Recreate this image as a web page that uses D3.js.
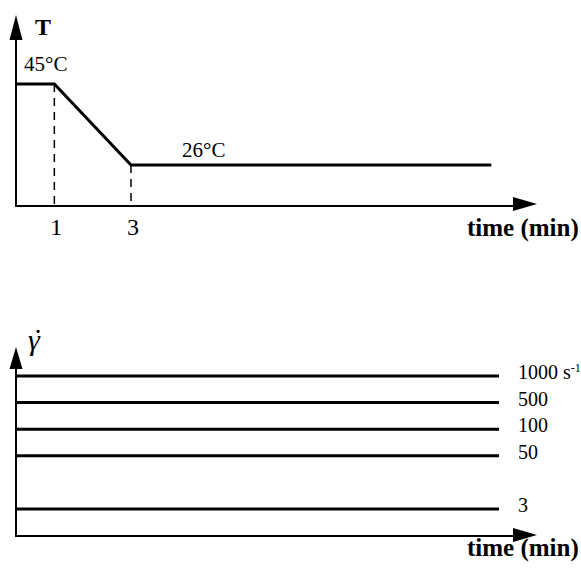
<!DOCTYPE html>
<html>
<head>
<meta charset="utf-8">
<script src="https://cdn.jsdelivr.net/npm/d3@7"></script>
<style>
  html, body { margin: 0; padding: 0; background: #fff; }
  svg { display: block; }
  text { font-family: "Liberation Serif", "Times New Roman", serif; fill: #000; }
</style>
</head>
<body>
<svg id="chart" width="581" height="571"></svg>
<script>
// Temperature program: hold at 45 °C, cool to 26 °C, then hold
const profileTimes = [0, 1, 3, 12.4];          // min
const profileTemps = [45, 45, 26, 26];         // °C
const markedTimes = [1, 3];                    // tick labels on the time axis
const tempLabels = ["45°C", "26°C"];

// Constant shear-rate runs, highest first
const shearRates = [1000, 500, 100, 50, 3];    // s^-1
const shearLabels = ["1000 s", "500", "100", "50", "3"];
const shearEnd = 12.6;                         // min

const svg = d3.select("#chart");

// shared time scale
const x = d3.scaleLinear().domain([0, 3]).range([16, 131]);

// ---------- upper panel: temperature ----------
const yT = d3.scaleLinear().domain([26, 45]).range([165, 84]);
const tempAxisY = 206;

function arrowUp(g, cx, tipY, len, halfW) {
  g.append("path")
    .attr("d", `M${cx},${tipY} L${cx - halfW},${tipY + len} L${cx + halfW},${tipY + len} Z`)
    .attr("fill", "#000");
}
function arrowRight(g, tipX, cy, len, halfH) {
  g.append("path")
    .attr("d", `M${tipX},${cy} L${tipX - len},${cy - halfH} L${tipX - len},${cy + halfH} Z`)
    .attr("fill", "#000");
}

const tempPanel = svg.append("g");
// axes
tempPanel.append("line").attr("x1", x(0)).attr("x2", x(0)).attr("y1", tempAxisY).attr("y2", 36)
  .attr("stroke", "#000").attr("stroke-width", 2);
arrowUp(tempPanel, x(0), 15, 25, 6.5);
tempPanel.append("line").attr("x1", x(0) - 1).attr("x2", 516).attr("y1", tempAxisY).attr("y2", tempAxisY)
  .attr("stroke", "#000").attr("stroke-width", 2);
arrowRight(tempPanel, 537, tempAxisY - 2, 24, 7);

// dashed guides from the profile down to the axis
tempPanel.selectAll("line.guide").data(markedTimes).join("line")
  .attr("class", "guide")
  .attr("x1", d => x(d)).attr("x2", d => x(d))
  .attr("y1", d => yT(profileTemps[profileTimes.indexOf(d)]))
  .attr("y2", tempAxisY)
  .attr("stroke", "#000").attr("stroke-width", 1.5).attr("stroke-dasharray", "8,6");

// temperature profile
const profile = profileTimes.map((t, i) => [t, profileTemps[i]]);
tempPanel.append("path")
  .datum(profile)
  .attr("d", d3.line().x(d => x(d[0])).y(d => yT(d[1])))
  .attr("fill", "none").attr("stroke", "#000").attr("stroke-width", 3)
  .attr("stroke-linejoin", "miter");

// tick labels
tempPanel.selectAll("text.tick").data(markedTimes).join("text")
  .attr("class", "tick")
  .attr("x", d => x(d) + 2).attr("y", 235)
  .attr("text-anchor", "middle").attr("font-size", 24)
  .text(d => d);

// temperature annotations
tempPanel.append("text").attr("x", x(0) + 8).attr("y", yT(45) - 13)
  .attr("font-size", 21).text(tempLabels[0]);
tempPanel.append("text").attr("x", x(3) + 51).attr("y", yT(26) - 8)
  .attr("font-size", 21).text(tempLabels[1]);

tempPanel.append("text").attr("x", 35).attr("y", 35)
  .attr("font-size", 24).attr("font-weight", "bold").text("T");
tempPanel.append("text").attr("x", 467).attr("y", 236)
  .attr("font-size", 25).attr("font-weight", "bold").text("time (min)");

// ---------- lower panel: shear rate ----------
// rates are shown as ordered levels; an empty slot separates the lowest rate
const levelSlots = [...shearRates.slice(0, -1), "gap", shearRates[shearRates.length - 1]];
const yS = d3.scalePoint().domain(levelSlots).range([376, 509]);
const shearAxisY = 536;

const shearPanel = svg.append("g");
shearPanel.append("line").attr("x1", x(0)).attr("x2", x(0)).attr("y1", shearAxisY).attr("y2", 366)
  .attr("stroke", "#000").attr("stroke-width", 2);
arrowUp(shearPanel, x(0), 347, 22, 6.5);
shearPanel.append("line").attr("x1", x(0) - 1).attr("x2", 516).attr("y1", shearAxisY).attr("y2", shearAxisY)
  .attr("stroke", "#000").attr("stroke-width", 2);
arrowRight(shearPanel, 537, shearAxisY - 1, 24, 7);

shearPanel.selectAll("line.rate").data(shearRates).join("line")
  .attr("class", "rate")
  .attr("x1", x(0)).attr("x2", x(shearEnd))
  .attr("y1", d => yS(d)).attr("y2", d => yS(d))
  .attr("stroke", "#000").attr("stroke-width", 3);

const rl = shearPanel.selectAll("text.rate").data(shearRates).join("text")
  .attr("class", "rate")
  .attr("x", 518).attr("y", d => yS(d) + 3)
  .attr("font-size", 20)
  .text((d, i) => shearLabels[i]);
rl.filter((d, i) => i === 0).append("tspan")
  .attr("dy", -7).attr("font-size", 12).text("-1");

// γ̇ axis label: italic gamma with a dot above, one text element
const gammaLabel = shearPanel.append("text").attr("x", 28).attr("y", 350).attr("font-size", 30);
gammaLabel.append("tspan").attr("font-style", "italic").text("γ");
gammaLabel.append("tspan").attr("x", 33).text("˙");

shearPanel.append("text").attr("x", 467).attr("y", 556)
  .attr("font-size", 25).attr("font-weight", "bold").text("time (min)");
</script>
</body>
</html>
